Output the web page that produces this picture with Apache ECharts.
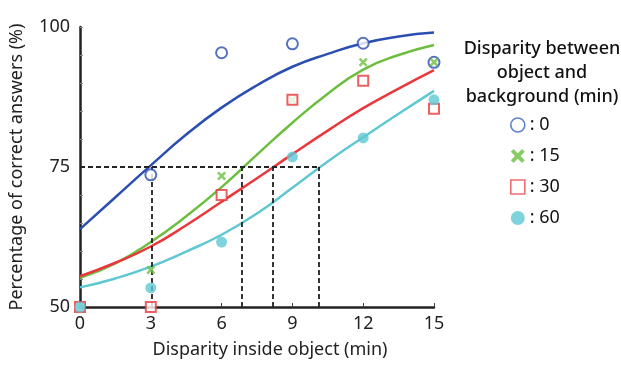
<!DOCTYPE html>
<html>
<head>
<meta charset="utf-8">
<script src="https://cdn.jsdelivr.net/npm/echarts@6/dist/echarts.min.js"></script>
<style>
html, body { margin: 0; padding: 0; background: #fff; }
#main { width: 621px; height: 368px; }
</style>
</head>
<body>
<div id="main"></div>
<script>
// 实测数据点 (x: 0,3,...,15)
var xPoints = [0, 3, 6, 9, 12, 15];
var pts0  = [null, 73.6, 95.4, 97, 97.1, 93.7];
var pts15 = [null, 56.6, 73.4, 87, 93.7, 93.7];
var pts30 = [50, 50, 70, 87, 90.4, 85.4];
var pts60 = [50, 53.4, 61.6, 76.8, 80.2, 87];

// 拟合曲线 (x: 0,1.5,...,15)
var xFit = [0, 1.5, 3, 4.5, 6, 7.5, 9, 10.5, 12, 13.5, 15];
var fit0  = [63.9, 69.6, 75.3, 80.8, 85.6, 89.6, 92.9, 95.2, 97.1, 98.3, 99];
var fit15 = [55.2, 57.8, 61.6, 66.2, 71.4, 77.2, 82.9, 88.1, 92.4, 95, 96.8];
var fit30 = [55.5, 57.9, 60.8, 64.6, 68.8, 73, 77.3, 81.5, 85.5, 89, 92.3];
var fit60 = [53.5, 55.1, 57.2, 59.9, 62.9, 66.7, 71.3, 76, 80.3, 84.5, 88.6];

// 75% 阈值
var threshold = 75;
var crossX = [3.05, 6.85, 8.15, 10.1];

var names = [': 0', ': 15', ': 30', ': 60'];
var colors = ['#2b4fb0', '#6cbe3f', '#e8383b', '#5fc8d3'];
var crossPath = 'path://M2,0 L5,3 L8,0 L10,2 L7,5 L10,8 L8,10 L5,7 L2,10 L0,8 L3,5 L0,2 Z';

function zip(xs, ys){
    var res = [];
    for(var i = 0; i < xs.length; i++){
        if(ys[i] !== null) res.push([xs[i], ys[i]]);
    }
    return res;
}

var chart = echarts.init(document.getElementById('main'));

var fits = [fit0, fit15, fit30, fit60];
var pts = [pts0, pts15, pts30, pts60];
var symbols = ['emptyCircle', crossPath, 'emptyRect', 'circle'];
var sizes = [11, 9, 10, 11];

var series = [];
// 曲线
for(var i = 0; i < 4; i++){
    series.push({
        type: 'line',
        smooth: 0.5,
        symbol: 'none',
        silent: true,
        z: 2,
        lineStyle: { color: colors[i], width: 2.5 },
        data: zip(xFit, fits[i])
    });
}
// 虚线
var ml = [[{ coord: [0, threshold] }, { coord: [crossX[crossX.length - 1], threshold] }]];
for(var j = 0; j < crossX.length; j++){
    ml.push([{ coord: [crossX[j], 50] }, { coord: [crossX[j], threshold] }]);
}
series.push({
    type: 'line',
    data: [],
    markLine: {
        silent: true,
        symbol: 'none',
        label: { show: false },
        lineStyle: { color: '#222', type: [5, 3], width: 1.8 },
        data: ml
    }
});
// 点
for(var k = 0; k < 4; k++){
    series.push({
        name: names[k],
        type: 'scatter',
        symbol: symbols[k],
        symbolSize: sizes[k],
        z: 5,
        itemStyle: k === 0 || k === 2 ?
            { color: colors[k], borderColor: colors[k], borderWidth: 2.2 } :
            { color: colors[k] },
        data: zip(xPoints, pts[k])
    });
}

var option = {
    animation: false,
    grid: { left: 77, right: 187, top: 27, bottom: 61 },
    title: {
        text: 'Disparity between\nobject and\nbackground (min)',
        left: 537,
        top: 32,
        textAlign: 'center',
        textStyle: {
            fontFamily: 'Noto Sans',
            fontSize: 18,
            fontWeight: 500,
            color: '#111',
            lineHeight: 24
        }
    },
    legend: {
        orient: 'vertical',
        left: 505,
        top: 111,
        itemGap: 13,
        itemWidth: 14,
        itemHeight: 14,
        textStyle: { fontFamily: 'Noto Sans', fontSize: 18, color: '#111' },
        data: [
            { name: names[0], icon: 'circle', itemStyle: { color: '#fff', borderColor: '#3b5fc0', borderWidth: 1.6 } },
            { name: names[1], icon: crossPath },
            { name: names[2], icon: 'rect', itemStyle: { color: '#fff', borderColor: '#e84a4d', borderWidth: 1.6 } },
            { name: names[3], icon: 'circle' }
        ]
    },
    xAxis: {
        type: 'value',
        min: 0,
        max: 15,
        interval: 3,
        name: 'Disparity inside object (min)',
        nameLocation: 'middle',
        nameGap: 34,
        nameTextStyle: { fontFamily: 'Noto Sans', fontSize: 18, color: '#222', padding: [0, 0, 0, 26] },
        axisLine: { lineStyle: { color: '#222', width: 2.5 } },
        axisTick: { show: true, inside: true, length: 4, lineStyle: { color: '#444' } },
        axisLabel: { fontFamily: 'Noto Sans', fontSize: 18, color: '#222', margin: 8 },
        splitLine: { show: false }
    },
    yAxis: {
        type: 'value',
        min: 50,
        max: 100,
        interval: 5,
        name: 'Percentage of correct answers (%)',
        nameLocation: 'middle',
        nameGap: 54,
        nameTextStyle: { fontFamily: 'Noto Sans', fontSize: 18, color: '#222' },
        axisLine: { show: true, lineStyle: { color: '#222', width: 2.5 } },
        axisTick: { show: true, inside: true, length: 3, lineStyle: { color: '#888' } },
        axisLabel: {
            fontFamily: 'Noto Sans', fontSize: 18, color: '#222', margin: 10,
            formatter: function(v){ return v % 25 === 0 ? v : ''; }
        },
        splitLine: { show: false }
    },
    series: series
};

chart.setOption(option);
</script>
</body>
</html>
